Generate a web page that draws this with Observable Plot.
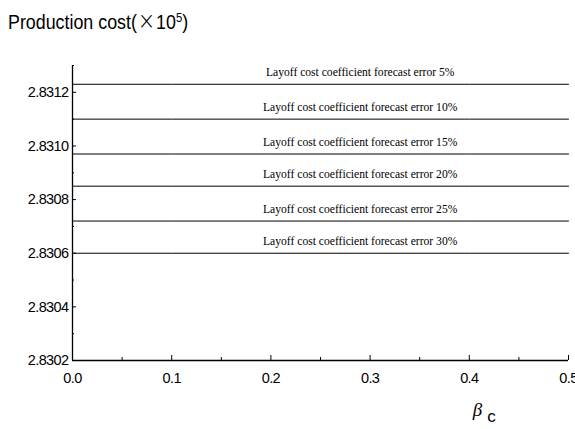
<!DOCTYPE html>
<html>
<head>
<meta charset="utf-8">
<script src="https://cdn.jsdelivr.net/npm/d3@7"></script>
<script src="https://cdn.jsdelivr.net/npm/@observablehq/plot@0.6"></script>
<style>
  body { margin: 0; background: #fff; }
  #chart { width: 575px; height: 429px; position: relative; background: #fff; }
  #title { height: 40px; position: relative; font-family: "Liberation Sans", Arial, sans-serif; font-size: 20.5px; color: #000; }
  #title .t { position: absolute; left: 8px; top: 11px; line-height: 20px; white-space: nowrap; transform: scaleX(0.87); transform-origin: left center; }
  #title sup { font-size: 13px; vertical-align: 7px; line-height: 0; }
  #title .times { font-family: "DejaVu Sans", sans-serif; font-weight: 200; font-size: 24px; margin: 0 1px; }
  svg text { letter-spacing: -0.6px; }
  svg .lbl text { letter-spacing: 0; }
</style>
</head>
<body>
<div id="chart">
  <div id="title"><span class="t">Production cost(<span class="times">×</span>10<sup>5</sup>)</span></div>
</div>
<script>
// Production cost (×10^5) against beta_c for each layoff-cost forecast error
const betaC = [0, 0.1, 0.2, 0.3, 0.4, 0.5];
const errorLevels = ["5%", "10%", "15%", "20%", "25%", "30%"];
const productionCost = [2.83123, 2.83110, 2.83097, 2.83085, 2.83072, 2.83060];

// Axis ticks
const xTicks = [0, 0.1, 0.2, 0.3, 0.4, 0.5];
const xMinorTicks = [0.05, 0.15, 0.25, 0.35, 0.45];
const yTicks = [2.8302, 2.8304, 2.8306, 2.8308, 2.8310, 2.8312];
const yMinorTicks = [2.8303, 2.8305, 2.8307, 2.8309, 2.8311, 2.8313];

const lines = errorLevels.flatMap((e, i) =>
  betaC.map(b => ({beta: b, cost: productionCost[i], series: e}))
);
const labels = errorLevels.map((e, i) => ({
  cost: productionCost[i],
  text: `Layoff cost coefficient forecast error ${e}`
}));

const sans = '"Liberation Sans", Arial, sans-serif';
const serif = '"Liberation Serif", "Times New Roman", serif';

const plot = Plot.plot({
  width: 575,
  height: 389,
  marginTop: 25,
  marginBottom: 69,
  marginLeft: 72,
  marginRight: 7,
  style: {background: "white", color: "black", fontFamily: sans},
  x: {domain: [0, 0.5]},
  y: {domain: [2.8302, 2.8313]},
  marks: [
    Plot.axisX(xTicks, {tickSize: -5, tickPadding: 17, tickFormat: d3.format(".1f"), fontSize: 14.5, label: null}),
    Plot.axisX(xMinorTicks, {tickSize: -3, text: null, label: null}),
    Plot.axisY(yTicks, {tickSize: -4, tickPadding: 8, tickFormat: d3.format(".4f"), fontSize: 14.5, label: null}),
    Plot.axisY(yMinorTicks, {tickSize: -2, text: null, label: null}),
    Plot.ruleX([0], {stroke: "black", strokeWidth: 1.3}),
    Plot.ruleY([2.8302], {stroke: "black", strokeWidth: 1.3}),
    Plot.line(lines, {x: "beta", y: "cost", z: "series", stroke: "black", strokeWidth: 1}),
    Plot.text(labels, {
      x: () => 0.29, y: "cost", text: "text",
      lineAnchor: "bottom", dy: -8, className: "lbl",
      fontFamily: serif, fontSize: 11.6, fill: "black"
    }),
    Plot.text(["β"], {x: () => 0.408, frameAnchor: "bottom", dy: 55, fontSize: 19, fontStyle: "italic", fontFamily: serif, fill: "black"}),
    Plot.text(["c"], {x: () => 0.422, frameAnchor: "bottom", dy: 61, fontSize: 17, fontFamily: sans, fill: "black"})
  ]
});

document.getElementById("chart").appendChild(plot);
</script>
</body>
</html>
